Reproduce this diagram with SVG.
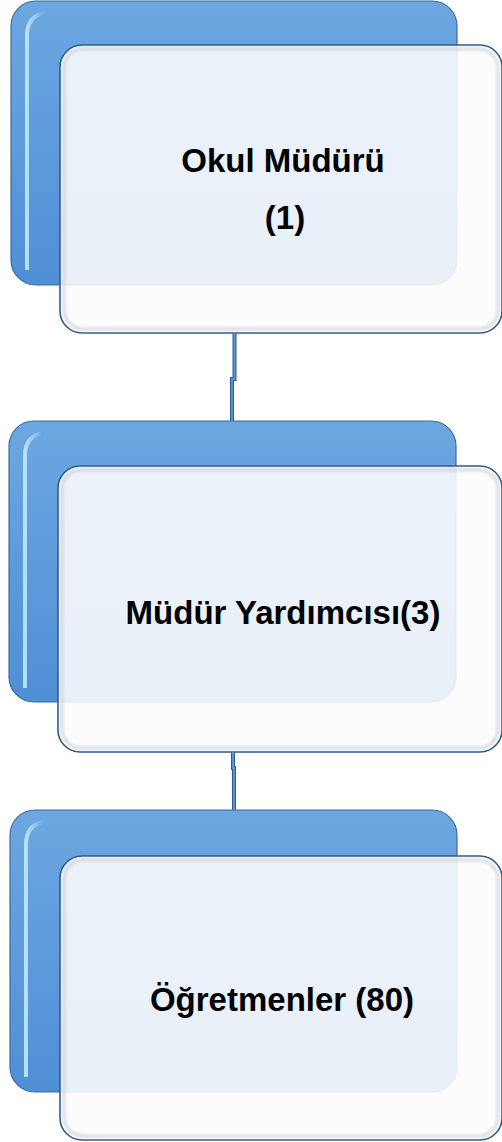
<svg xmlns="http://www.w3.org/2000/svg" width="502" height="1142" viewBox="0 0 502 1142">
<defs>
<linearGradient id="blueG" x1="0" y1="0" x2="0" y2="1">
<stop offset="0" stop-color="#6DA7E1"/>
<stop offset="1" stop-color="#4F8FD6"/>
</linearGradient>
<linearGradient id="hiG" x1="0" y1="0" x2="1" y2="0">
<stop offset="0" stop-color="#BFEBFF" stop-opacity="0.9"/>
<stop offset="1" stop-color="#BFEBFF" stop-opacity="0"/>
</linearGradient>
<filter id="soft" x="-5%" y="-5%" width="110%" height="110%">
<feGaussianBlur stdDeviation="1.5"/>
</filter>
<style>
.back{fill:url(#blueG);stroke:#3D6C9E;stroke-width:1.2}
.hi{fill:none;stroke:url(#hiG);stroke-width:4}
.front{fill:#FCFCFC;fill-opacity:0.89;stroke:#2E5A86;stroke-width:1.6}
.inner{fill:none;stroke:#C8CDD3;stroke-width:3;opacity:0.7;filter:url(#soft)}
.lbl{font-family:"Liberation Sans",Arial,sans-serif;font-weight:bold;font-size:33px;fill:#000;text-anchor:middle}
.conn{fill:none;stroke:#2F5D8C;stroke-width:4}
.connI{fill:none;stroke:#5B93CF;stroke-width:2}
</style>
</defs>
<g id="node1">
<rect class="back" x="11" y="1" width="446" height="284" rx="25"/>
<path class="hi" d="M27 270 V36 Q27 16 45 13"/>
<rect class="front" x="60" y="45" width="442" height="288" rx="22"/>
<rect class="inner" x="64" y="49" width="434" height="280" rx="19"/>
<text class="lbl" x="283" y="172">Okul Müdürü</text>
<text class="lbl" x="285" y="229">(1)</text>
</g>
<g id="node2">
<rect class="back" x="9" y="421" width="447" height="281" rx="25"/>
<path class="hi" d="M25 688 V456 Q25 436 43 433"/>
<rect class="front" x="58" y="466" width="444" height="286" rx="22"/>
<rect class="inner" x="62" y="470" width="436" height="278" rx="19"/>
<text class="lbl" x="283" y="624">Müdür Yardımcısı(3)</text>
</g>
<g id="node3">
<rect class="back" x="10" y="810" width="447" height="282" rx="25"/>
<path class="hi" d="M26 1077 V845 Q26 825 44 822"/>
<rect class="front" x="60" y="856" width="442" height="284" rx="22"/>
<rect class="inner" x="64" y="860" width="434" height="276" rx="19"/>
<text class="lbl" x="282" y="1011">Öğretmenler (80)</text>
</g>
<g id="connectors">
<path class="conn" d="M234.5 333 V379 H232 V421"/>
<path class="connI" d="M234.5 333 V379 H232 V421"/>
<path class="conn" d="M233 752 V768 H234 V810"/>
<path class="connI" d="M233 752 V768 H234 V810"/>
</g>
</svg>
